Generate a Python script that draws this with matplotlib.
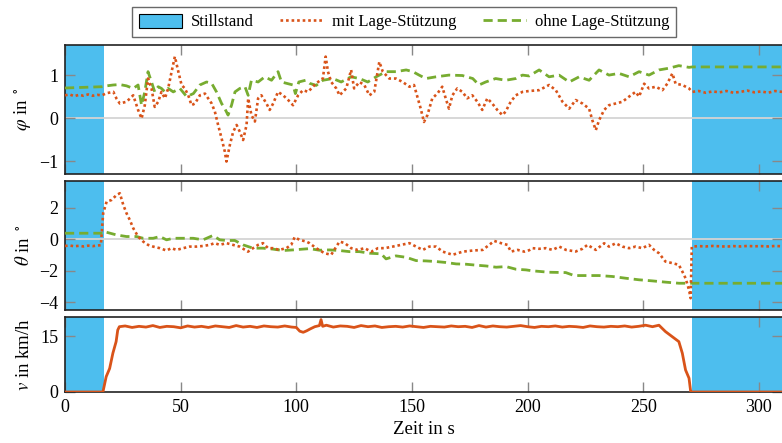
import matplotlib
matplotlib.use("Agg")
import matplotlib.pyplot as plt
from matplotlib.patches import Patch
from matplotlib.lines import Line2D

plt.rcParams['font.family'] = ['Liberation Serif', 'DejaVu Serif']
plt.rcParams['mathtext.fontset'] = 'stix'

# ---------------- data ----------------
standstill = [(0.0, 16.8), (271.0, 310.0)]

t_phi_mit = [0, 2, 4, 6, 8, 10, 12, 14, 16, 18, 20.9, 22.3, 23.7, 26.6, 29.5, 31.6, 33.1, 34.5, 35.9, 37.4,
             38.8, 40.3, 41.7, 43.2, 44.6, 46.1, 47.5, 49.0, 50.4, 51.8, 53.3, 54.7, 56.2, 58.3, 60.5, 61.9,
             63.4, 64.8, 66.2, 67.7, 69.1, 69.8, 71.3, 72.7, 74.2, 75.6, 77.0, 78.5, 79.2, 80.6, 82.1, 83.5,
             84.9, 87.1, 88.5, 90.0, 92.1, 94.3, 96.5, 98.6, 100.8, 102.9, 105.1, 106.5, 108.6, 111.5, 112.7,
             113.7, 115.1, 117.3, 118.7, 121.6, 123.7, 125.0, 127.3, 129.4, 131.6, 133.7, 135.9, 137.4, 140.2,
             143.1, 146.0, 148.9, 150.9, 152.3, 153.8, 155.2, 156.7, 158.8, 161.0, 163.1, 164.6, 166.0, 167.5,
             169.6, 171.8, 173.9, 176.1, 178.3, 180.4, 182.6, 184.7, 186.9, 189.1, 190.5, 192.7, 194.9, 197.8,
             200.7, 205.0, 209.3, 212.2, 215.1, 218.0, 220.8, 223.7, 226.6, 228.0, 229.5, 230.9, 233.1, 235.2,
             238.1, 241.0, 243.9, 246.7, 248.2, 250.4, 252.5, 255.4, 258.3, 260.4, 262.6, 264.0, 266.9, 269.8,
             271.2, 274, 277, 280, 283, 286, 289, 292, 295, 298, 301, 304, 307, 310]
phi_mit = [0.53, 0.55, 0.51, 0.54, 0.52, 0.55, 0.52, 0.54, 0.53, 0.58, 0.61, 0.45, 0.34, 0.38, 0.53, 0.19, -0.01,
           0.30, 0.92, 0.69, 0.26, 0.38, 0.61, 0.46, 0.69, 1.08, 1.43, 1.08, 0.77, 0.69, 0.53, 0.30, 0.34, 0.53,
           0.57, 0.46, 0.34, 0.15, -0.16, -0.47, -0.78, -1.01, -0.62, -0.32, -0.16, -0.32, -0.51, -0.16, 0.46,
           0.07, -0.08, 0.46, 0.53, 0.34, 0.19, 0.34, 0.61, 0.53, 0.42, 0.30, 0.53, 0.65, 0.61, 0.69, 0.81, 0.92,
           1.43, 1.08, 0.84, 0.69, 0.53, 0.69, 1.12, 0.69, 0.84, 0.77, 0.53, 0.61, 1.31, 1.08, 0.92, 0.92, 0.84,
           0.73, 0.77, 0.50, 0.22, -0.09, 0.07, 0.46, 0.57, 0.73, 0.46, 0.22, 0.53, 0.69, 0.61, 0.46, 0.53, 0.38,
           0.19, 0.46, 0.34, 0.19, 0.07, 0.15, 0.38, 0.53, 0.61, 0.63, 0.65, 0.77, 0.65, 0.38, 0.22, 0.42, 0.34,
           0.22, -0.05, -0.28, -0.05, 0.19, 0.30, 0.34, 0.38, 0.50, 0.61, 0.50, 0.80, 0.69, 0.73, 0.65, 0.80, 1.04,
           0.80, 0.77, 0.69, 0.61, 0.63, 0.59, 0.62, 0.60, 0.63, 0.59, 0.61, 0.64, 0.60, 0.62, 0.59, 0.63, 0.61]

t_phi_ohne = [0, 16, 18, 20.9, 23.7, 26.6, 29.5, 31.6, 33.1, 34.5, 35.9, 37.4, 38.8, 40.3, 41.7, 43.2, 44.6,
              46.8, 49.7, 52.6, 55.5, 58.3, 61.2, 63.4, 65.5, 67.7, 69.1, 70.5, 72.0, 73.5, 75.6, 77.8, 79.2,
              80.6, 83.5, 86.4, 89.3, 92.1, 93.6, 95.7, 98.6, 99.6, 101.1, 104.0, 105.7, 108.6, 111.5, 115.8,
              119.4, 123.7, 127.3, 130.9, 134.5, 138.8, 143.1, 147.5, 150.4, 153.1, 156.0, 160.4, 166.0, 171.8,
              176.3, 179.0, 181.9, 186.2, 190.5, 194.9, 197.8, 200.7, 205.0, 209.3, 213.6, 218.0, 222.3, 226.6,
              230.9, 235.2, 239.5, 243.9, 248.2, 252.5, 256.8, 261.1, 265.4, 269.8, 271.2, 310]
phi_ohne = [0.70, 0.73, 0.75, 0.77, 0.78, 0.75, 0.69, 0.77, 0.30, 0.61, 1.08, 0.84, 0.61, 0.73, 0.69, 0.61, 0.69,
            0.61, 0.69, 0.50, 0.57, 0.77, 0.84, 0.81, 0.61, 0.34, 0.22, 0.07, 0.30, 0.61, 0.69, 0.73, 0.53, 0.88,
            0.84, 0.96, 0.88, 1.08, 0.84, 0.81, 0.77, 0.57, 0.84, 0.88, 0.81, 0.76, 0.88, 0.92, 0.84, 0.96, 0.92,
            0.84, 0.96, 1.08, 1.08, 1.12, 1.08, 1.00, 0.92, 0.96, 1.00, 0.99, 0.92, 0.77, 0.84, 0.92, 0.88, 0.92,
            1.00, 0.98, 1.12, 0.96, 1.00, 0.84, 0.96, 0.88, 1.12, 1.00, 1.04, 0.96, 1.08, 1.00, 1.12, 1.16, 1.22,
            1.18, 1.19, 1.19]

t_theta_mit = [0, 2, 4, 6, 8, 10, 12, 14, 15.5, 16.5, 18.0, 20.1, 22.3, 23.7, 25.2, 26.6, 28.0, 29.5, 31.6, 33.8,
               35.9, 38.1, 41.0, 43.9, 46.0, 48.2, 51.1, 53.9, 56.8, 59.7, 62.6, 64.7, 66.9, 69.8, 72.6, 75.5,
               79.1, 81.3, 83.5, 85.6, 87.8, 89.9, 92.6, 95.7, 97.8, 99.3, 101.4, 104.3, 105.7, 108.6, 112.2,
               115.1, 117.3, 118.7, 121.0, 123.7, 126.6, 129.5, 132.4, 135.3, 138.2, 141.7, 145.3, 148.9, 151.8,
               154.7, 157.5, 160.4, 163.3, 167.6, 172.0, 176.3, 180.6, 183.4, 185.6, 188.5, 191.3, 192.8, 195.7,
               198.6, 200.7, 202.1, 205.0, 207.9, 210.8, 213.7, 216.6, 220.8, 223.7, 225.9, 229.5, 233.1, 235.2,
               238.1, 241.0, 243.9, 246.7, 249.6, 252.5, 254.7, 256.8, 259.6, 262.6, 265.4, 266.9, 268.3, 269.8,
               270.5, 271.0, 274, 277, 280, 283, 286, 289, 292, 295, 298, 301, 304, 307, 310]
theta_mit = [-0.43, -0.40, -0.45, -0.42, -0.46, -0.41, -0.44, -0.40, -0.38, 1.65, 2.39, 2.49, 2.81, 2.92, 2.18,
             1.65, 1.23, 0.70, 0.17, -0.15, -0.36, -0.47, -0.57, -0.72, -0.57, -0.68, -0.57, -0.47, -0.47, -0.43,
             -0.36, -0.25, -0.36, -0.25, -0.36, -0.47, -0.79, -0.57, -0.36, -0.25, -0.57, -0.57, -0.68, -0.57,
             -0.36, 0.13, -0.04, -0.15, -0.25, -0.57, -0.89, -0.99, -0.47, -0.15, -0.25, -0.57, -0.68, -0.57,
             -0.79, -0.57, -0.57, -0.47, -0.36, -0.25, -0.47, -0.68, -0.47, -0.47, -0.79, -0.99, -0.79, -0.72,
             -0.68, -0.36, -0.11, -0.25, -0.36, -0.79, -0.68, -0.79, -0.70, -0.57, -0.61, -0.57, -0.68, -0.47,
             -0.68, -0.78, -0.61, -0.36, -0.68, -0.26, -0.47, -0.26, -0.47, -0.57, -0.47, -0.57, -0.36, -0.68,
             -0.89, -1.42, -1.52, -1.63, -2.05, -2.48, -3.22, -3.75, -0.47, -0.44, -0.46, -0.43, -0.45, -0.47,
             -0.44, -0.46, -0.43, -0.45, -0.44, -0.46, -0.43, -0.45]

t_theta_ohne = [0, 16.5, 17, 18.0, 22.3, 26.6, 30.9, 33.8, 38.1, 41.0, 43.9, 46.8, 51.1, 55.4, 59.7, 64.0, 66.9,
                69.8, 73.4, 77.0, 81.3, 85.6, 89.9, 94.3, 98.6, 102.9, 105.7, 110.0, 114.4, 118.7, 123.0, 127.3,
                131.6, 136.7, 138.8, 143.1, 147.5, 151.8, 156.1, 160.4, 164.7, 169.1, 173.4, 177.7, 182.0, 186.4,
                190.7, 195.0, 199.3, 202.1, 209.3, 216.5, 220.1, 225.2, 230.9, 236.7, 242.4, 248.2, 254.0, 259.7,
                265.5, 271.2, 310]
theta_ohne = [0.38, 0.38, 0.48, 0.44, 0.27, 0.17, 0.17, 0.06, 0.06, 0.17, -0.04, 0.06, 0.06, 0.06, -0.04, 0.24,
              -0.04, -0.08, -0.08, -0.36, -0.57, -0.57, -0.63, -0.72, -0.68, -0.63, -0.60, -0.70, -0.68, -0.72,
              -0.79, -0.79, -0.89, -0.93, -1.25, -1.06, -1.15, -1.36, -1.38, -1.42, -1.48, -1.57, -1.59, -1.65,
              -1.70, -1.78, -1.74, -1.91, -1.95, -2.01, -2.10, -2.12, -2.31, -2.31, -2.31, -2.37, -2.48, -2.58,
              -2.65, -2.73, -2.80, -2.80, -2.80]

t_v = [0, 16.4, 17.8, 19.3, 20.7, 22.1, 22.8, 23.5, 26, 29, 32, 35, 38, 41, 44, 47, 50, 53, 56, 59, 62, 65, 68,
       71, 74, 77, 80, 83, 86, 89, 92, 95, 98, 100, 101.5, 103, 104.5, 106, 108, 110, 110.7, 111.4, 113, 116, 119,
       122, 125, 128, 131, 134, 137, 140, 143, 146, 149, 152, 155, 158, 161, 164, 167, 170, 173, 176, 179, 182,
       185, 188, 191, 194, 197, 200, 203, 206, 209, 212, 215, 218, 221, 224, 227, 230, 233, 236, 239, 242, 245,
       248, 251, 254, 256.8, 259.6, 262.6, 265.4, 266.9, 268.3, 269.8, 270.5, 271, 310]
v = [0, 0, 4.1, 6.3, 10.4, 13.5, 16.6, 17.5, 17.7, 17.3, 17.6, 17.4, 17.8, 17.3, 17.6, 17.5, 17.2, 17.7, 17.4,
     17.6, 17.3, 17.7, 17.5, 17.3, 17.8, 17.4, 17.6, 17.3, 17.7, 17.5, 17.4, 17.7, 17.4, 17.3, 16.3, 16.0, 16.4,
     16.9, 17.5, 17.8, 19.4, 17.6, 17.9, 17.4, 17.7, 17.6, 17.3, 17.8, 17.5, 17.7, 17.3, 17.5, 17.6, 17.4, 17.7,
     17.5, 17.3, 17.6, 17.5, 17.4, 17.7, 17.5, 17.6, 17.3, 17.8, 17.4, 17.7, 17.5, 17.4, 17.6, 17.8, 17.5, 17.3,
     17.6, 17.5, 17.7, 17.4, 17.6, 17.5, 17.3, 17.7, 17.5, 17.4, 17.6, 17.5, 17.7, 17.4, 17.6, 17.9, 17.5, 17.9,
     16.2, 14.8, 13.5, 10.4, 5.9, 3.7, 0.2, 0, 0]

# ---------------- style ----------------
C_ORANGE = '#D95319'
C_GREEN = '#77AC30'
C_BLUE = '#4DBEEE'
W, H = 782, 443

fig = plt.figure(figsize=(W / 100, H / 100), dpi=100)

def px_axes(x0, y0, x1, y1):
    return fig.add_axes([x0 / W, 1 - y1 / H, (x1 - x0) / W, (y1 - y0) / H])

ax1 = px_axes(65, 45, 782, 174)
ax2 = px_axes(65, 181, 782, 310)
ax3 = px_axes(65, 317, 782, 392)

dotted = (0, (1, 1.1))
dashed = (0, (3.3, 1.8))

for ax in (ax1, ax2, ax3):
    for a, b in standstill:
        ax.axvspan(a, b, color=C_BLUE, lw=0, zorder=0)
    ax.set_xlim(0, 310)
    ax.set_xticks([0, 50, 100, 150, 200, 250, 300])
    ax.tick_params(direction='in', length=7, width=1, color='#888888', top=True, right=True,
                   labelsize=13, pad=5)
    for s in ax.spines.values():
        s.set_linewidth(1.2)
        s.set_color('#222222')
    ax.spines['right'].set_visible(False)
    ax.yaxis.set_label_coords(-0.045, 0.5)

for ax in (ax1, ax2):
    ax.axhline(0, color='#d4d4d4', lw=1.3, zorder=1)
    ax.tick_params(labelbottom=False)

ax1.plot(t_phi_ohne, phi_ohne, color=C_GREEN, lw=2.0, linestyle=dashed, zorder=3)
ax1.plot(t_phi_mit, phi_mit, color=C_ORANGE, lw=1.9, linestyle=dotted, zorder=4)
ax1.set_ylim(-1.3, 1.7)
ax1.set_yticks([-1, 0, 1])
ax1.set_ylabel(r'$\varphi$ in $^\circ$', fontsize=13.5)

ax2.plot(t_theta_ohne, theta_ohne, color=C_GREEN, lw=2.0, linestyle=dashed, zorder=3)
ax2.plot(t_theta_mit, theta_mit, color=C_ORANGE, lw=1.9, linestyle=dotted, zorder=4)
ax2.set_ylim(-4.5, 3.7)
ax2.set_yticks([-4, -2, 0, 2])
ax2.set_ylabel(r'$\theta$ in $^\circ$', fontsize=13.5)

ax3.plot(t_v, v, color=C_ORANGE, lw=2.0, zorder=4)
ax3.set_ylim(0, 20.1)
ax3.set_yticks([0, 15])
ax3.set_ylabel(r'$v$ in km/h', fontsize=13.5)
ax3.set_xlabel('Zeit in s', fontsize=13.5, labelpad=4)

handles = [Patch(facecolor=C_BLUE, edgecolor='black', lw=0.8),
           Line2D([], [], color=C_ORANGE, lw=1.9, linestyle=dotted),
           Line2D([], [], color=C_GREEN, lw=2.0, linestyle=dashed)]
labels = ['Stillstand', 'mit Lage-Stützung', 'ohne Lage-Stützung']
leg = fig.legend(handles, labels, loc='center', bbox_to_anchor=(404 / W, 1 - 22 / H), ncol=3,
                 fontsize=12, frameon=True, fancybox=False, edgecolor='#444444',
                 handlelength=2.6, handleheight=0.9, handletextpad=0.5, columnspacing=1.6,
                 borderpad=0.4)
leg.get_frame().set_linewidth(1.0)

fig.savefig('out.png', dpi=100)
